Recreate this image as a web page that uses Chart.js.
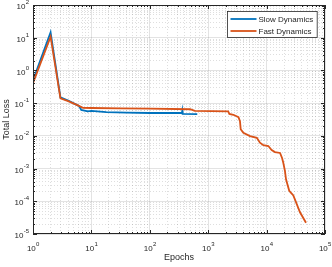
<!DOCTYPE html>
<html>
<head>
<meta charset="utf-8">
<script src="https://cdn.jsdelivr.net/npm/chart.js@4"></script>
<style>
  html, body { margin: 0; padding: 0; background: #fff; }
  canvas { display: block; }
</style>
</head>
<body>
<canvas id="lossChart" width="332" height="267"></canvas>
<script>
// axis decades (tick labels are 10^d)
const xDecades = [0, 1, 2, 3, 4, 5];
const yDecades = [-5, -4, -3, -2, -1, 0, 1, 2];

const seriesNames = ["Slow Dynamics", "Fast Dynamics"];
const seriesColors = ["#0072BD", "#D95319"];

// slow dynamics run
const slowEpochs = [1, 2, 2.95, 4, 5.5, 6.2, 6.7, 8.7, 10, 18, 40, 100, 355, 360, 365, 650];
const slowLoss = [0.5, 14.5, 0.15, 0.12, 0.09, 0.08, 0.062, 0.056, 0.058, 0.053, 0.051, 0.05, 0.05, 0.059, 0.047, 0.046];

// fast dynamics run
const fastEpochs = [1, 2, 2.95, 4, 5.5, 7.2, 10, 31, 100, 490, 590, 2200, 2300, 2700, 3300, 3500, 3600,
  4000, 5200, 6800, 7700, 8800, 10700, 12200, 13900, 17000, 18400, 19300, 20600, 21500, 24400,
  28700, 37300, 47300];
const fastLoss = [0.41, 10.8, 0.14, 0.115, 0.09, 0.072, 0.071, 0.069, 0.068, 0.065, 0.058, 0.056, 0.047, 0.044, 0.037, 0.028, 0.016,
  0.0124, 0.0098, 0.0087, 0.0062, 0.0052, 0.0049, 0.0037, 0.0032, 0.0030, 0.0021, 0.0015, 0.00085, 0.00047, 0.00021,
  0.00015, 0.000046, 0.000022];

const FONT = '"Liberation Sans", Arial, Helvetica, sans-serif';
const INK = "#262626";

function isMajor(v) {
  const l = Math.log10(v);
  return Math.abs(l - Math.round(l)) < 1e-6;
}

// 1..9 x 10^d for each decade, last decade only its 10^d
function logTicks(decades) {
  const out = [];
  decades.forEach((d, i) => {
    const top = i === decades.length - 1 ? 1 : 9;
    for (let m = 1; m <= top; m++) {
      out.push({ value: Number((m * Math.pow(10, d)).toPrecision(10)) });
    }
  });
  return out;
}

function toPoints(xs, ys) {
  return xs.map((x, i) => ({ x: x, y: ys[i] }));
}

const gridOpts = {
  drawTicks: false,
  lineWidth: 1,
  color: (c) => (c.tick && isMajor(c.tick.value) ? "rgba(0,0,0,0.11)" : "rgba(0,0,0,0.13)"),
};
const borderOpts = {
  display: false,
  dash: (c) => (c.tick && isMajor(c.tick.value) ? [] : [1, 2]),
};

// MATLAB style box, inward ticks, 10^n labels, axis titles and legend
const axesPlugin = {
  id: "matlabAxes",
  afterDraw(chart) {
    const { ctx, chartArea: a, scales } = chart;
    const xs = scales.x, ys = scales.y;
    ctx.save();
    ctx.strokeStyle = INK;
    ctx.lineWidth = 1;

    const seg = (x1, y1, x2, y2) => {
      ctx.beginPath();
      ctx.moveTo(x1, y1);
      ctx.lineTo(x2, y2);
      ctx.stroke();
    };

    ctx.strokeRect(a.left + 0.5, a.top + 0.5, a.width - 1, a.height - 1);

    xs.ticks.forEach((t) => {
      const px = Math.round(xs.getPixelForValue(t.value)) + 0.5;
      const len = isMajor(t.value) ? 4 : 2;
      seg(px, a.bottom, px, a.bottom - len);
      seg(px, a.top, px, a.top + len);
    });
    ys.ticks.forEach((t) => {
      const py = Math.round(ys.getPixelForValue(t.value)) + 0.5;
      const len = isMajor(t.value) ? 4 : 2;
      seg(a.left, py, a.left + len, py);
      seg(a.right, py, a.right - len, py);
    });

    ctx.fillStyle = INK;
    ctx.textBaseline = "middle";
    ctx.textAlign = "left";
    const baseFont = "8px " + FONT;
    const expFont = "6px " + FONT;

    xDecades.forEach((d) => {
      const px = xs.getPixelForValue(Math.pow(10, d));
      ctx.font = baseFont;
      const wb = ctx.measureText("10").width;
      ctx.font = expFont;
      const we = ctx.measureText(String(d)).width;
      const x0 = px - (wb + we) / 2;
      ctx.font = baseFont;
      ctx.fillText("10", x0, a.bottom + 14.5);
      ctx.font = expFont;
      ctx.fillText(String(d), x0 + wb + 0.3, a.bottom + 10);
    });

    yDecades.forEach((d) => {
      const py = ys.getPixelForValue(Math.pow(10, d));
      ctx.font = expFont;
      const we = ctx.measureText(String(d)).width;
      ctx.font = baseFont;
      const wb = ctx.measureText("10").width;
      const right = a.left - 4;
      ctx.fillText("10", right - we - wb - 0.3, py + 2);
      ctx.font = expFont;
      ctx.fillText(String(d), right - we, py - 2.5);
    });

    ctx.font = "9px " + FONT;
    ctx.textAlign = "center";
    ctx.fillText("Epochs", (a.left + a.right) / 2, a.bottom + 24);
    ctx.save();
    ctx.translate(7, (a.top + a.bottom) / 2);
    ctx.rotate(-Math.PI / 2);
    ctx.fillText("Total Loss", 0, 0);
    ctx.restore();

    // legend box
    ctx.font = "8px " + FONT;
    const labelW = Math.max(...chart.data.datasets.map((ds) => ctx.measureText(ds.label).width));
    const boxW = 3 + 26 + 2 + labelW + 4;
    const boxH = 26;
    const bx = Math.round(a.right - 8 - boxW) + 0.5;
    const by = a.top + 6.5;
    ctx.fillStyle = "#fff";
    ctx.fillRect(bx, by, boxW, boxH);
    ctx.strokeStyle = INK;
    ctx.lineWidth = 0.8;
    ctx.strokeRect(bx, by, boxW, boxH);
    ctx.textAlign = "left";
    chart.data.datasets.forEach((ds, i) => {
      const ly = by + 7.5 + i * 12;
      ctx.strokeStyle = ds.borderColor;
      ctx.lineWidth = 1.8;
      seg(bx + 3, ly, bx + 29, ly);
      ctx.fillStyle = INK;
      ctx.fillText(ds.label, bx + 31, ly + 0.5);
    });
    ctx.restore();
  },
};

new Chart(document.getElementById("lossChart"), {
  type: "line",
  data: {
    datasets: [
      {
        label: seriesNames[0],
        data: toPoints(slowEpochs, slowLoss),
        borderColor: seriesColors[0],
        borderWidth: 1.8,
        pointRadius: 0,
        tension: 0,
        order: 1,
      },
      {
        label: seriesNames[1],
        data: toPoints(fastEpochs, fastLoss),
        borderColor: seriesColors[1],
        borderWidth: 1.8,
        pointRadius: 0,
        tension: 0,
        order: 0,
      },
    ],
  },
  options: {
    responsive: false,
    animation: false,
    devicePixelRatio: 1,
    layout: { padding: { top: 5, right: 7, left: 0, bottom: 0 } },
    plugins: { legend: { display: false }, tooltip: { enabled: false } },
    scales: {
      x: {
        type: "logarithmic",
        min: 1,
        max: 1e5,
        ticks: { display: false },
        grid: gridOpts,
        border: borderOpts,
        afterBuildTicks: (s) => { s.ticks = logTicks(xDecades); },
        afterFit: (s) => { s.height = 33; },
      },
      y: {
        type: "logarithmic",
        min: 1e-5,
        max: 100,
        ticks: { display: false },
        grid: gridOpts,
        border: borderOpts,
        afterBuildTicks: (s) => { s.ticks = logTicks(yDecades); },
        afterFit: (s) => { s.width = 33; },
      },
    },
  },
  plugins: [axesPlugin],
});
</script>
</body>
</html>
